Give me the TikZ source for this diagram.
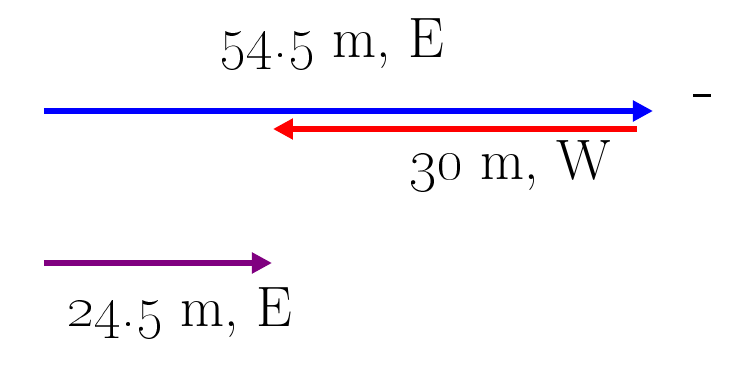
\documentclass[tikz,border=0pt]{standalone}
\usetikzlibrary{arrows.meta}
\definecolor{vecpurple}{RGB}{128,0,128}
\tikzset{
  vec/.style={line width=3pt, -{Triangle[length=10pt,width=10pt]}},
  lbl/.style={anchor=base, inner sep=0pt, font=\fontsize{28.5}{34}\selectfont}
}
\begin{document}
\begin{tikzpicture}[x=0.5pt, y=-0.5pt]
    \useasboundingbox (0,0) rectangle (736,378);

    % 1. end points of the displacements
    \coordinate (eStart) at (44,111);
    \coordinate (eEnd) at (653,111);
    \coordinate (wStart) at (637,129);
    \coordinate (wEnd) at (273,129);
    \coordinate (rStart) at (44,263);
    \coordinate (rEnd) at (272,263);

    % 2. the two legs: east then west
    \draw[vec, blue] (eStart) -- (eEnd);
    \draw[vec, red] (wStart) -- (wEnd);
    \node[lbl] (eLbl) at (332,58) {\oldstylenums{54.5} m, E};
    \node[lbl] (wLbl) at (510,180) {\oldstylenums{30} m, W};

    % 3. resultant
    \draw[vec, vecpurple] (rStart) -- (rEnd);
    \node[lbl] (rLbl) at (180,327) {\oldstylenums{24.5} m, E};

    % 4. stray mark on the right
    \fill (693,94) rectangle (711,97);

\end{tikzpicture}
\end{document}
